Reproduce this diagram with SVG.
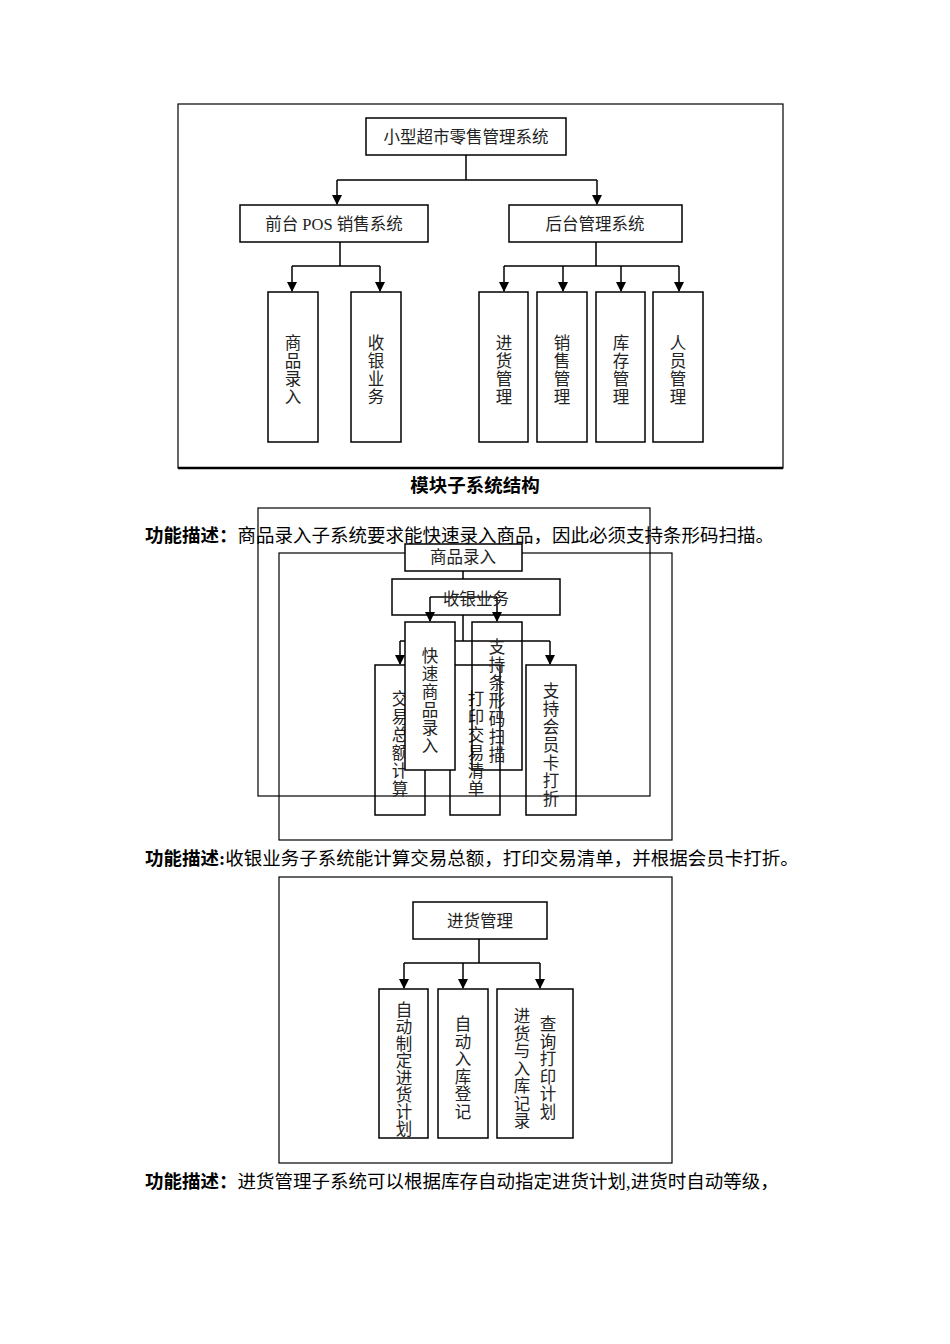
<svg xmlns="http://www.w3.org/2000/svg" width="950" height="1344" viewBox="0 0 950 1344">
<defs>
<marker id="a" markerWidth="10" markerHeight="11" refX="9" refY="5" orient="auto" markerUnits="userSpaceOnUse"><path d="M0,0 L10,5 L0,10 Z" fill="#000"/></marker>
</defs>
<style>
rect{fill:none;stroke:#000;stroke-width:1.5}
.f{stroke-width:1.2}
.c path{fill:none;stroke:#000;stroke-width:1.5}
text{font-family:"Liberation Serif","Noto Sans CJK SC",serif;font-size:16.5px;fill:#222}
.p{font-size:18.5px;fill:#000}
.b{font-weight:bold}
</style>
<rect fill="#fff" width="950" height="1344" style="fill:#fff;stroke:none"/>
<rect class="f" x="178" y="104" width="605" height="364"/>
<line x1="178" y1="468" x2="783" y2="468" stroke="#000" stroke-width="2.5"/>
<g class="c">
<path d="M466,155 V180 M337,180 H597" />
<path d="M337,180 V204" marker-end="url(#a)"/>
<path d="M597,180 V204" marker-end="url(#a)"/>
<path d="M340,242 V266 M292,266 H380"/>
<path d="M292,266 V291" marker-end="url(#a)"/>
<path d="M380,266 V291" marker-end="url(#a)"/>
<path d="M596,242 V266 M504,266 H679"/>
<path d="M504,266 V291" marker-end="url(#a)"/>
<path d="M563,266 V291" marker-end="url(#a)"/>
<path d="M621,266 V291" marker-end="url(#a)"/>
<path d="M679,266 V291" marker-end="url(#a)"/>
</g>
<g id="n-root"><rect x="366" y="118" width="200" height="37"/><text x="466" y="143" text-anchor="middle">小型超市零售管理系统</text></g>
<g id="n-pos"><rect x="240" y="205" width="188" height="37"/><text x="334" y="230" text-anchor="middle">前台 POS 销售系统</text></g>
<g id="n-back"><rect x="509" y="205" width="173" height="37"/><text x="595" y="230" text-anchor="middle">后台管理系统</text></g>
<g id="n-spl"><rect x="268" y="292" width="50" height="150"/><text x="293" y="349" text-anchor="middle"><tspan x="293">商</tspan><tspan x="293" dy="18">品</tspan><tspan x="293" dy="18">录</tspan><tspan x="293" dy="18">入</tspan></text></g>
<g id="n-sy"><rect x="351" y="292" width="50" height="150"/><text x="376" y="349" text-anchor="middle"><tspan x="376">收</tspan><tspan x="376" dy="18">银</tspan><tspan x="376" dy="18">业</tspan><tspan x="376" dy="18">务</tspan></text></g>
<g id="n-jh"><rect x="479" y="292" width="49" height="150"/><text x="504" y="349" text-anchor="middle"><tspan x="504">进</tspan><tspan x="504" dy="18">货</tspan><tspan x="504" dy="18">管</tspan><tspan x="504" dy="18">理</tspan></text></g>
<g id="n-xs"><rect x="537" y="292" width="50" height="150"/><text x="562" y="349" text-anchor="middle"><tspan x="562">销</tspan><tspan x="562" dy="18">售</tspan><tspan x="562" dy="18">管</tspan><tspan x="562" dy="18">理</tspan></text></g>
<g id="n-kc"><rect x="596" y="292" width="49" height="150"/><text x="621" y="349" text-anchor="middle"><tspan x="621">库</tspan><tspan x="621" dy="18">存</tspan><tspan x="621" dy="18">管</tspan><tspan x="621" dy="18">理</tspan></text></g>
<g id="n-ry"><rect x="653" y="292" width="50" height="150"/><text x="678" y="349" text-anchor="middle"><tspan x="678">人</tspan><tspan x="678" dy="18">员</tspan><tspan x="678" dy="18">管</tspan><tspan x="678" dy="18">理</tspan></text></g>
<text class="p b" x="475" y="492" text-anchor="middle">模块子系统结构</text>
<text class="p" x="145" y="542"><tspan class="b">功能描述：</tspan>商品录入子系统要求能快速录入商品，因此必须支持条形码扫描。</text>

<rect class="f" x="258" y="508" width="392" height="288"/>
<rect class="f" x="279" y="553" width="393" height="287"/>
<g class="c">
<path d="M463,571 V579 M463,615 V641"/>
<path d="M430,597 H497"/>
<path d="M430,597 V621" marker-end="url(#a)"/>
<path d="M497,597 V621" marker-end="url(#a)"/>
<path d="M400,641 H550"/>
<path d="M400,641 V664" marker-end="url(#a)"/>
<path d="M550,641 V664" marker-end="url(#a)"/>
</g>
<g id="n-jy"><rect x="375" y="665" width="50" height="150"/><text x="400" y="705" text-anchor="middle"><tspan x="400">交</tspan><tspan x="400" dy="18">易</tspan><tspan x="400" dy="18">总</tspan><tspan x="400" dy="18">额</tspan><tspan x="400" dy="18">计</tspan><tspan x="400" dy="18">算</tspan></text></g>
<g id="n-dy"><rect x="450" y="665" width="50" height="150"/><text x="476" y="705" text-anchor="middle"><tspan x="476">打</tspan><tspan x="476" dy="18">印</tspan><tspan x="476" dy="18">交</tspan><tspan x="476" dy="18">易</tspan><tspan x="476" dy="18">清</tspan><tspan x="476" dy="18">单</tspan></text></g>
<g id="n-hy"><rect x="526" y="665" width="50" height="150"/><text x="551" y="697" text-anchor="middle"><tspan x="551">支</tspan><tspan x="551" dy="18">持</tspan><tspan x="551" dy="18">会</tspan><tspan x="551" dy="18">员</tspan><tspan x="551" dy="18">卡</tspan><tspan x="551" dy="18">打</tspan><tspan x="551" dy="18">折</tspan></text></g>
<g id="n-sp2"><rect x="405" y="544" width="117" height="27" style="fill:#fff"/><text x="463" y="563" text-anchor="middle">商品录入</text></g>
<g id="n-sy2"><rect x="392" y="579" width="168" height="36"/><text x="476" y="605" text-anchor="middle">收银业务</text></g>
<g id="n-ks"><rect x="405" y="622" width="50" height="148" style="fill:#fff"/><text x="430" y="662" text-anchor="middle"><tspan x="430">快</tspan><tspan x="430" dy="18">速</tspan><tspan x="430" dy="18">商</tspan><tspan x="430" dy="18">品</tspan><tspan x="430" dy="18">录</tspan><tspan x="430" dy="18">入</tspan></text></g>
<g id="n-tx"><rect x="472" y="622" width="50" height="148"/><text x="497" y="653" text-anchor="middle"><tspan x="497">支</tspan><tspan x="497" dy="18">持</tspan><tspan x="497" dy="18">条</tspan><tspan x="497" dy="18">形</tspan><tspan x="497" dy="18">码</tspan><tspan x="497" dy="18">扫</tspan><tspan x="497" dy="18">描</tspan></text></g>
<text class="p" x="145" y="865"><tspan class="b">功能描述:</tspan>收银业务子系统能计算交易总额，打印交易清单，并根据会员卡打折。</text>

<rect class="f" x="279" y="877" width="393" height="286"/>
<g class="c">
<path d="M479,939 V963 M404,963 H540"/>
<path d="M404,963 V988" marker-end="url(#a)"/>
<path d="M463,963 V988" marker-end="url(#a)"/>
<path d="M540,963 V988" marker-end="url(#a)"/>
</g>
<g id="n-jhgl"><rect x="413" y="902" width="134" height="37"/><text x="480" y="927" text-anchor="middle">进货管理</text></g>
<g id="n-zd"><rect x="379" y="989" width="49" height="149"/><text x="404" y="1016" text-anchor="middle"><tspan x="404">自</tspan><tspan x="404" dy="17">动</tspan><tspan x="404" dy="17">制</tspan><tspan x="404" dy="17">定</tspan><tspan x="404" dy="17">进</tspan><tspan x="404" dy="17">货</tspan><tspan x="404" dy="17">计</tspan><tspan x="404" dy="17">划</tspan></text></g>
<g id="n-rk"><rect x="438" y="989" width="50" height="149"/><text x="463" y="1030" text-anchor="middle"><tspan x="463">自</tspan><tspan x="463" dy="17.5">动</tspan><tspan x="463" dy="17.5">入</tspan><tspan x="463" dy="17.5">库</tspan><tspan x="463" dy="17.5">登</tspan><tspan x="463" dy="17.5">记</tspan></text></g>
<g id="n-cx"><rect x="497" y="989" width="76" height="149"/><text x="522" y="1022" text-anchor="middle"><tspan x="522">进</tspan><tspan x="522" dy="17.5">货</tspan><tspan x="522" dy="17.5">与</tspan><tspan x="522" dy="17.5">入</tspan><tspan x="522" dy="17.5">库</tspan><tspan x="522" dy="17.5">记</tspan><tspan x="522" dy="17.5">录</tspan></text><text x="548" y="1030" text-anchor="middle"><tspan x="548">查</tspan><tspan x="548" dy="17.5">询</tspan><tspan x="548" dy="17.5">打</tspan><tspan x="548" dy="17.5">印</tspan><tspan x="548" dy="17.5">计</tspan><tspan x="548" dy="17.5">划</tspan></text></g>
<text class="p" x="145" y="1188"><tspan class="b">功能描述：</tspan>进货管理子系统可以根据库存自动指定进货计划,进货时自动等级，</text>
</svg>
